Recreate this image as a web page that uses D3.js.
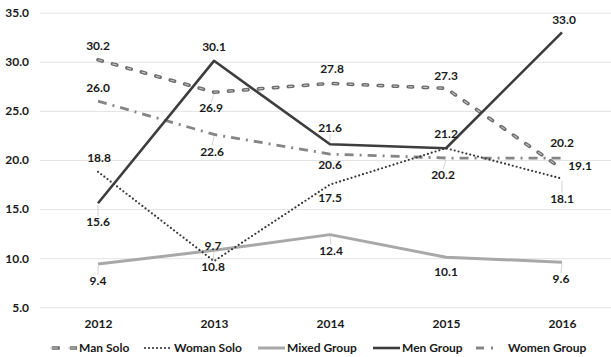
<!DOCTYPE html>
<html>
<head>
<meta charset="utf-8">
<script src="https://cdn.jsdelivr.net/npm/d3@7/dist/d3.min.js"></script>
<style>
  html, body { margin: 0; padding: 0; background: #fff; }
  svg { display: block; }
  text { font-family: Lato, "Open Sans", sans-serif; font-weight: bold; fill: #1a1a1a; }
</style>
</head>
<body>
<svg id="chart" width="611" height="357"></svg>
<script>
// Yearly values per act type
const years = ["2012", "2013", "2014", "2015", "2016"];
const manSolo = [30.2, 26.9, 27.8, 27.3, 19.1];
const womanSolo = [18.8, 9.7, 17.5, 21.2, 18.1];
const mixedGroup = [9.4, 10.8, 12.4, 10.1, 9.6];
const menGroup = [15.6, 30.1, 21.6, 21.2, 33.0];
const womenGroup = [26.0, 22.6, 20.6, 20.2, 20.2];
const yTicks = [5, 10, 15, 20, 25, 30, 35];
const seriesNames = ["Man Solo", "Woman Solo", "Mixed Group", "Men Group", "Women Group"];

// Label placement (offset from the point, in px); null = no label
const labelOffsets = {
  "Man Solo":    [[0,-14], [-3,16], [2,-15], [0,-13], [18,-3]],
  "Woman Solo":  [[1,-14], [-1,-15], [0,13], null, [0,20]],
  "Mixed Group": [[0,17], [-1,16], [1,16], [0,15], [-1,17]],
  "Men Group":   [[0,19], [0,-14], [0,-16], [0,-14], [2,-13]],
  "Women Group": [[0,-13], [-2,17], [0,11], [-3,17], [0,-15]]
};

const series = [
  { name: "Man Solo", values: manSolo },
  { name: "Woman Solo", values: womanSolo },
  { name: "Mixed Group", values: mixedGroup },
  { name: "Men Group", values: menGroup },
  { name: "Women Group", values: womenGroup }
];

// Stroke styles; a style may stack several strokes
const styles = {
  "Man Solo": [
    { stroke: "#6b6b6b", width: 3.6, dash: "4.5,10.5", cap: "round" },
    { stroke: "#c4c4c4", width: 1.1, dash: "4.5,10.5", cap: "butt" }
  ],
  "Woman Solo": [{ stroke: "#353535", width: 2.2, dash: "0,4", cap: "round" }],
  "Mixed Group": [{ stroke: "#a8a8a8", width: 3, dash: null, cap: "butt" }],
  "Men Group": [{ stroke: "#3d3d3d", width: 2.6, dash: null, cap: "butt" }],
  "Women Group": [{ stroke: "#858585", width: 2.8, dash: "9,6,2,6", cap: "butt" }]
};

const svg = d3.select("#chart");
const plotLeft = 40, plotRight = 611;

const x = d3.scalePoint().domain(years).range([98, 562]);
const y = d3.scaleLinear().domain([5, 35]).range([307.3, 12.7]);

// Y axis with gridlines
const yAxis = svg.append("g")
  .attr("transform", `translate(${plotLeft},0)`)
  .call(d3.axisLeft(y).tickValues(yTicks).tickFormat(d3.format(".1f"))
    .tickSize(-(plotRight - plotLeft)).tickPadding(11));
yAxis.select(".domain").remove();
yAxis.selectAll(".tick line").attr("stroke", "#e3e3e3").attr("stroke-width", 1);
yAxis.selectAll(".tick text").style("font-size", "12px").attr("fill", "#1a1a1a");

// X axis labels
const xAxis = svg.append("g")
  .attr("transform", `translate(0,${y(5)})`)
  .call(d3.axisBottom(x).tickSize(0).tickPadding(12));
xAxis.select(".domain").remove();
xAxis.selectAll(".tick text").style("font-size", "12px").attr("fill", "#1a1a1a");

const line = d3.line().x((d, i) => x(years[i])).y(d => y(d));

// Draw series in back-to-front order
const drawOrder = ["Mixed Group", "Women Group", "Woman Solo", "Man Solo", "Men Group"];
drawOrder.forEach(name => {
  const s = series.find(d => d.name === name);
  styles[name].forEach(st => {
    svg.append("path")
      .datum(s.values)
      .attr("d", line)
      .attr("fill", "none")
      .attr("stroke", st.stroke)
      .attr("stroke-width", st.width)
      .attr("stroke-dasharray", st.dash)
      .attr("stroke-linecap", st.cap)
      .attr("stroke-linejoin", "round");
  });
});

// Value labels with faint leader lines when far from the point
const labels = svg.append("g");
series.forEach(s => {
  s.values.forEach((v, i) => {
    const off = labelOffsets[s.name][i];
    if (!off) return;
    const px = x(years[i]), py = y(v);
    const lx = px + off[0], ly = py + off[1];
    if (Math.abs(off[1]) >= 16 && Math.abs(off[0]) < 10) {
      const dir = Math.sign(off[1]);
      labels.append("line")
        .attr("x1", px).attr("y1", py + dir * 2)
        .attr("x2", lx).attr("y2", ly - dir * 6)
        .attr("stroke", "#c8c8c8").attr("stroke-width", 0.8);
    }
    labels.append("text")
      .attr("x", lx).attr("y", ly)
      .attr("dy", "0.35em")
      .attr("text-anchor", "middle")
      .style("font-size", "12px")
      .text(d3.format(".1f")(v));
  });
});

// Legend
const legendItems = [
  { name: "Man Solo", x: 50 },
  { name: "Woman Solo", x: 145 },
  { name: "Mixed Group", x: 258 },
  { name: "Men Group", x: 373 },
  { name: "Women Group", x: 476 }
];
const legendY = 348;
const legend = svg.append("g");
legendItems.forEach(item => {
  const sampleW = item.name === "Women Group" ? 22 : 27;
  styles[item.name].forEach(st => {
    let dash = st.dash;
    if (item.name === "Man Solo") dash = st.cap === "round" ? "8,10" : "8,10";
    if (item.name === "Women Group") dash = "8,7,2,10";
    legend.append("line")
      .attr("x1", item.x + (item.name === "Man Solo" && st.cap === "round" ? 1.8 : 0))
      .attr("x2", item.x + sampleW)
      .attr("y1", legendY).attr("y2", legendY)
      .attr("stroke", st.stroke)
      .attr("stroke-width", st.width)
      .attr("stroke-dasharray", dash)
      .attr("stroke-linecap", item.name === "Man Solo" ? "butt" : st.cap);
  });
  legend.append("text")
    .attr("x", item.x + sampleW + (item.name === "Women Group" ? 10 : 2))
    .attr("y", legendY)
    .attr("dy", "0.35em")
    .style("font-size", "12px")
    .text(item.name);
});
</script>
</body>
</html>
